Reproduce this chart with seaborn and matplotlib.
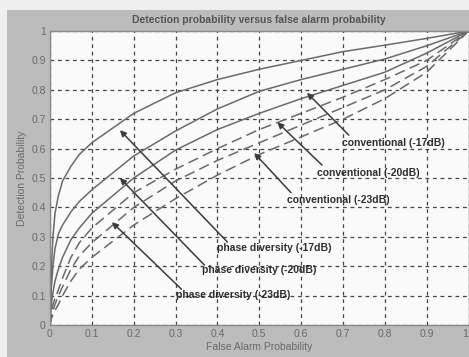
import matplotlib
matplotlib.use("Agg")
import matplotlib.pyplot as plt
from matplotlib.patches import Rectangle
import seaborn as sns
import pandas as pd

# ---- data ----
pfa = [0, 0.003, 0.007, 0.012, 0.02, 0.03, 0.05, 0.07, 0.1, 0.2, 0.3, 0.4, 0.5, 0.6, 0.7, 0.8, 0.9, 1.0]
phase_17 = [0, 0.18, 0.30, 0.38, 0.44, 0.49, 0.54, 0.58, 0.62, 0.72, 0.79, 0.835, 0.87, 0.90, 0.93, 0.952, 0.975, 1]
phase_20 = [0, 0.12, 0.20, 0.26, 0.31, 0.34, 0.385, 0.42, 0.46, 0.575, 0.66, 0.735, 0.795, 0.835, 0.87, 0.905, 0.95, 1]
phase_23 = [0, 0.07, 0.11, 0.15, 0.19, 0.23, 0.29, 0.33, 0.38, 0.50, 0.595, 0.665, 0.72, 0.77, 0.815, 0.86, 0.925, 1]
conv_17 = [0, 0.04, 0.07, 0.09, 0.12, 0.16, 0.23, 0.28, 0.33, 0.45, 0.53, 0.60, 0.665, 0.72, 0.775, 0.835, 0.90, 1]
conv_20 = [0, 0.03, 0.05, 0.07, 0.10, 0.13, 0.19, 0.235, 0.28, 0.40, 0.49, 0.56, 0.62, 0.68, 0.74, 0.80, 0.88, 1]
conv_23 = [0, 0.02, 0.035, 0.05, 0.07, 0.10, 0.15, 0.19, 0.23, 0.34, 0.43, 0.51, 0.58, 0.64, 0.70, 0.77, 0.86, 1]

series_names = ["p17", "p20", "p23", "c17", "c20", "c23"]
series_vals = [phase_17, phase_20, phase_23, conv_17, conv_20, conv_23]

labels = ["conventional (-17dB)", "conventional (-20dB)", "conventional (-23dB)",
          "phase diversity (-17dB)", "phase diversity (-20dB)", "phase diversity (-23dB)"]
label_pos = [(0.698, 0.62), (0.638, 0.517), (0.567, 0.425),
             (0.40, 0.262), (0.362, 0.187), (0.30, 0.102)]
arrow_tail = [(0.714, 0.646), (0.65, 0.544), (0.576, 0.45),
              (0.424, 0.282), (0.369, 0.204), (0.314, 0.122)]
arrow_tip = [(0.614, 0.79), (0.543, 0.69), (0.488, 0.585),
             (0.167, 0.663), (0.167, 0.50), (0.148, 0.35)]

xticks = [0, 0.1, 0.2, 0.3, 0.4, 0.5, 0.6, 0.7, 0.8, 0.9, 1]
yticks = [0, 0.1, 0.2, 0.3, 0.4, 0.5, 0.6, 0.7, 0.8, 0.9, 1]

rows = []
for n, vals in zip(series_names, series_vals):
    for xv, yv in zip(pfa, vals):
        rows.append({"pfa": xv, "pd": yv, "curve": n})
df = pd.DataFrame(rows)

sns.set_style("white")
plt.rcParams['font.family'] = ['Liberation Sans', 'DejaVu Sans']

fig = plt.figure(figsize=(4.69, 3.57), dpi=100)
fig.patch.set_facecolor("#efefef")
fig.patches.append(Rectangle((0.015, 0), 0.985, 0.972, transform=fig.transFigure,
                             facecolor="#bcbcbc", edgecolor="none", zorder=-10))
ax = fig.add_axes([0.1066, 0.0896, 0.8924, 0.8234])
ax.set_facecolor("#fafafa")

line_col = "#6a6a6a"
palette = {n: line_col for n in series_names}
dashes = {"p17": "", "p20": "", "p23": "", "c17": (7, 3.5), "c20": (7, 3.5), "c23": (7, 3.5)}
sns.lineplot(data=df, x="pfa", y="pd", hue="curve", style="curve", palette=palette,
             dashes=dashes, estimator=None, sort=False, lw=1.1, legend=False, ax=ax)

ax.set_xlim(0, 1)
ax.set_ylim(0, 1)
ax.set_xticks(xticks)
ax.set_yticks(yticks)
ax.set_xticklabels([f"{t:g}" for t in xticks])
ax.set_yticklabels([f"{t:g}" for t in yticks])
ax.get_xticklabels()[-1].set_horizontalalignment("right")
ax.tick_params(colors="#6a6a6a", labelsize=7.5, length=0, pad=3)
ax.grid(True, color="#454545", linestyle=(0, (3, 3)), linewidth=0.9)
for s in ax.spines.values():
    s.set_color("#8a8a8a")
    s.set_linewidth(1.0)

ax.set_title("Detection probability versus false alarm probability", fontsize=7.5,
             color="#555555", fontweight="bold", pad=6)
ax.set_xlabel("False Alarm Probability", fontsize=7.5, color="#6a6a6a", labelpad=2)
ax.set_ylabel("Detection Probability", fontsize=7.5, color="#6a6a6a", labelpad=3)

for lab, pos, tail, tip in zip(labels, label_pos, arrow_tail, arrow_tip):
    ax.annotate("", xy=tip, xytext=tail,
                arrowprops=dict(arrowstyle="-|>", color="#3c3c3c", lw=1.1,
                                mutation_scale=9, shrinkA=0, shrinkB=0))
    ax.text(pos[0], pos[1], lab, fontsize=7.5, color="#2e2e2e", fontweight="bold",
            ha="left", va="center")

fig.savefig("out.png", dpi=100, facecolor=fig.get_facecolor())
